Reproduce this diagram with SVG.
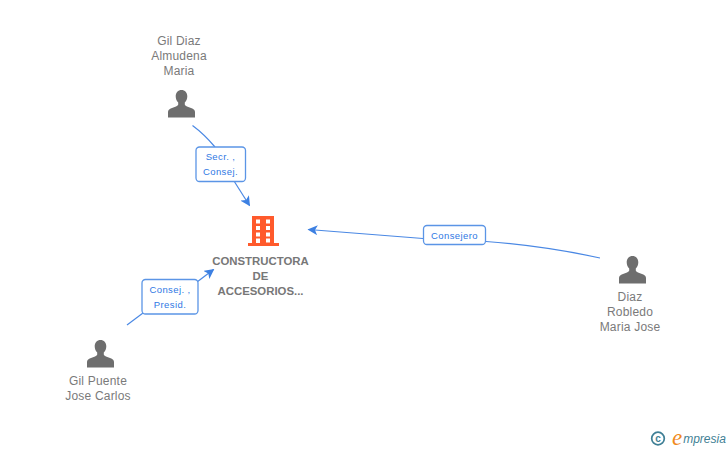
<svg xmlns="http://www.w3.org/2000/svg" width="728" height="450" viewBox="0 0 728 450">
<style>
text{font-family:"Liberation Sans",Arial,sans-serif;text-anchor:middle}
.n{font-size:12px;fill:#7a7a7a;letter-spacing:.2px}
.b{font-size:11.4px;font-weight:bold;fill:#777}
.l{font-size:9.5px;fill:#2f78e4;letter-spacing:.4px}
.e{fill:none;stroke:#4a88e4;stroke-width:1.2}
.box{fill:#fff;stroke:#5b95e6;stroke-width:1.3}
.p{fill:#6e6e6e}
</style>
<defs>
<marker id="a" viewBox="0 0 10 10" refX="9" refY="5" markerWidth="10" markerHeight="10" markerUnits="userSpaceOnUse" orient="auto"><path d="M0 0L10 5L0 10L2.5 5Z" fill="#3d80e2"/></marker>
<path id="u" d="M0-14.5c-3.400 0-5.800 2.700-5.800 6.300c0 2.500.9 4.800 2.500 6.200v2.100c0 .9-1 1.400-2.200 1.900l-5.300 2c-1.800.7-2.700 2-2.700 3.700v5.300h27v-5.300c0-1.700-.9-3-2.700-3.700l-5.300-2c-1.200-.5-2.200-1-2.200-1.900v-2.100c1.600-1.400 2.500-3.700 2.500-6.200c0-3.600-2.400-6.300-5.800-6.300z"/>
</defs>
<g id="connectors">
<path class="e" d="M192.500 125.500Q204 134 215 147"/>
<path class="e" d="M234 181L249.500 205.500" marker-end="url(#a)"/>
<path class="e" d="M127 325L143 313"/>
<path class="e" d="M197 282L213.500 269.500" marker-end="url(#a)"/>
<path class="e" d="M423 238.500L308.500 229.500" marker-end="url(#a)"/>
<path class="e" d="M486 241.500Q545 246 600 258"/>
</g>
<g id="edge-label-1"><rect class="box" x="196" y="147" width="49.500" height="34.500" rx="3.500"/><text class="l" x="220.500" y="160">Secr. ,</text><text class="l" x="220.500" y="175">Consej.</text></g>
<g id="edge-label-2"><rect class="box" x="142" y="279.500" width="56" height="34.500" rx="3.500"/><text class="l" x="170" y="293">Consej. ,</text><text class="l" x="170" y="308">Presid.</text></g>
<g id="edge-label-3"><rect class="box" x="423.500" y="225.500" width="62" height="19" rx="3.500"/><text class="l" x="454.500" y="239">Consejero</text></g>
<g id="node-gil-diaz">
<text class="n" x="179" y="45">Gil Diaz</text><text class="n" x="179" y="60">Almudena</text><text class="n" x="179" y="75">Maria</text>
<use href="#u" class="p" x="181.500" y="104.500"/>
</g>
<g id="node-constructora">
<path fill="#ff5a2c" fill-rule="evenodd" d="M252 216H274V243H279V246H248V243H252ZM256 219.500V223.500H260V219.500ZM266 219.500V223.500H270V219.500ZM256 226V230H260V226ZM266 226V230H270V226ZM256 232.500V236.500H260V232.500ZM266 232.500V236.500H270V232.500ZM256 238.500V243H260V238.500ZM266 238.500V242.500H270V238.500Z"/>
<text class="b" x="260.500" y="265">CONSTRUCTORA</text><text class="b" x="260.500" y="280">DE</text><text class="b" x="260.500" y="295">ACCESORIOS...</text>
</g>
<g id="node-gil-puente">
<use href="#u" class="p" x="100.500" y="354.500"/>
<text class="n" x="98" y="385">Gil Puente</text><text class="n" x="98" y="400">Jose Carlos</text>
</g>
<g id="node-diaz-robledo">
<use href="#u" class="p" x="632.500" y="270.500"/>
<text class="n" x="630" y="301">Diaz</text><text class="n" x="630" y="316">Robledo</text><text class="n" x="630" y="331">Maria Jose</text>
</g>
<g id="brand">
<circle cx="658" cy="438.500" r="6.300" fill="none" stroke="#3f7f95" stroke-width="1.700"/>
<text x="658" y="442" style="font-size:10px;font-weight:bold;fill:#3f7f95">c</text>
<text x="677" y="445" style="font-size:23px;font-style:italic;font-family:'Liberation Serif',serif;fill:#f08a1d">e</text>
<text x="704.500" y="443" style="font-size:12px;font-style:italic;fill:#3f7f95">mpresia</text>
</g>
</svg>
